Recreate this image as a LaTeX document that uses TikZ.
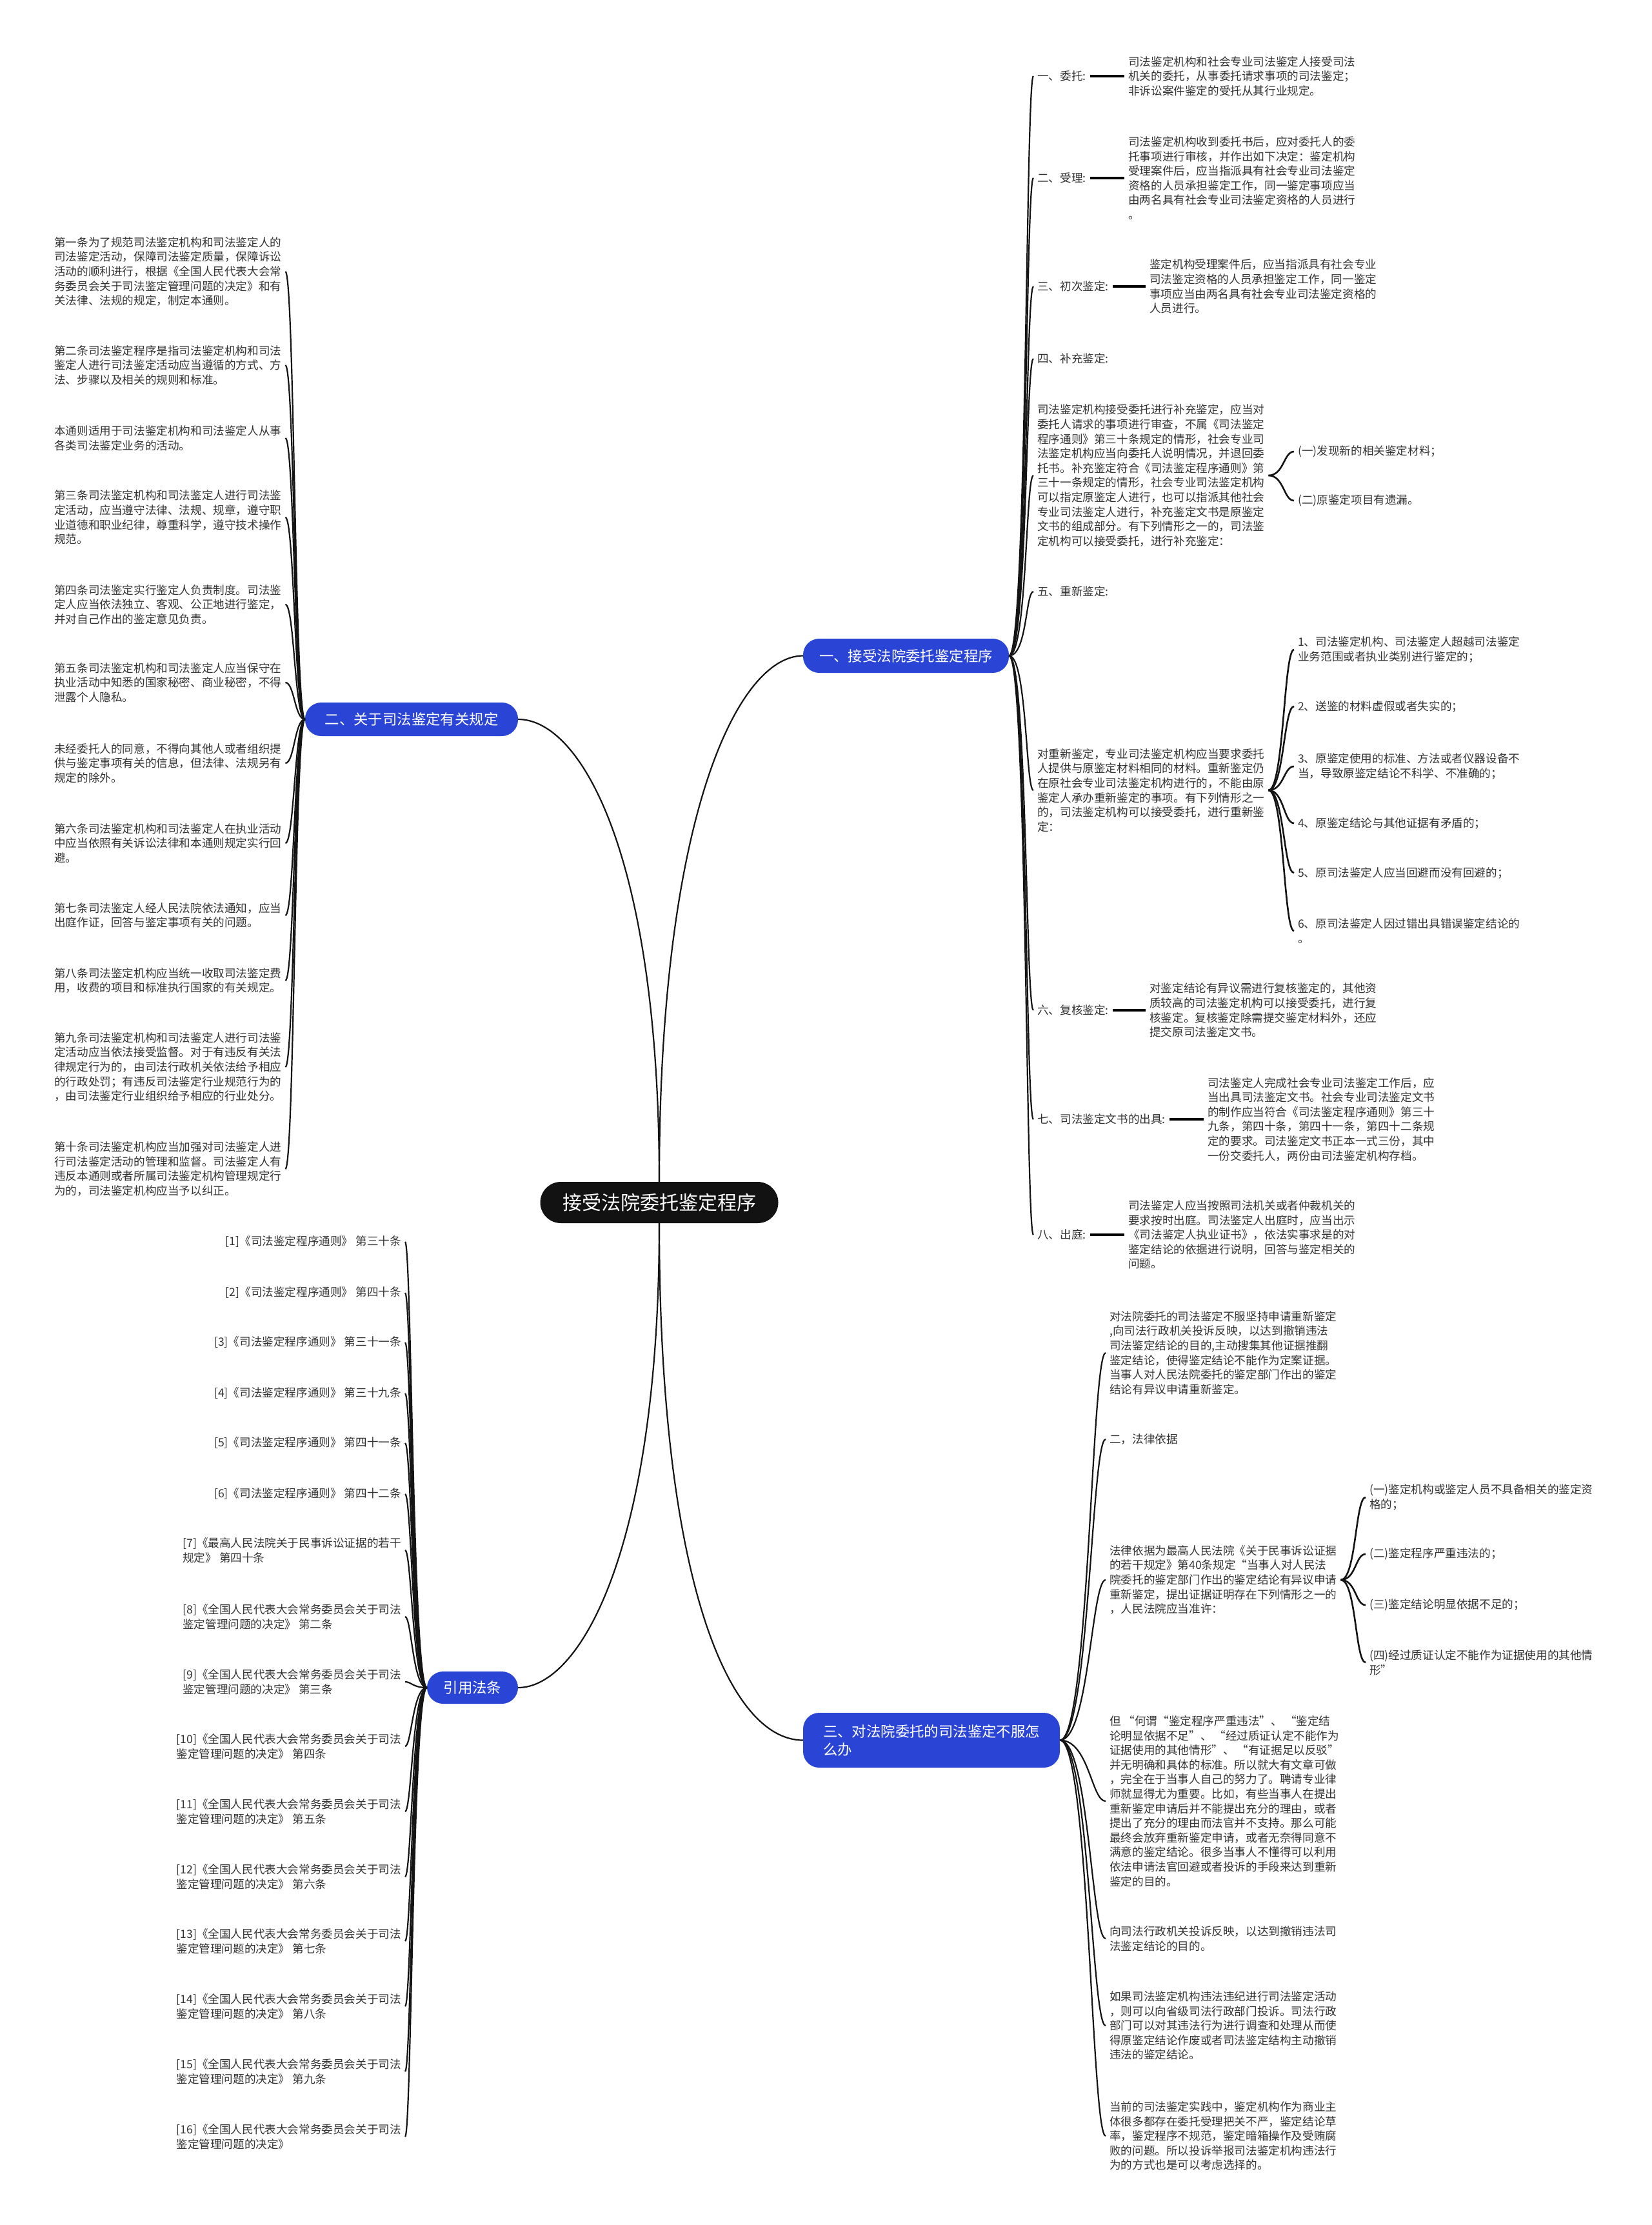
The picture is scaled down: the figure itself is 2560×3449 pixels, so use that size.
\documentclass[tikz,border=0pt]{standalone}
\usepackage{fontspec}
\setmainfont{Noto Sans CJK SC}
\newfontfamily\wmserif{Liberation Serif}
\definecolor{txtc}{HTML}{333333}
\definecolor{pillblue}{RGB}{42,68,214}
\definecolor{wmc}{HTML}{D9D9D9}
\tikzset{
 conn/.style={draw=black!92, line width=2.2pt},
 subconn/.style={draw=black!92, line width=2.6pt},
 dashc/.style={draw=black, line width=3.4pt},
 blk/.style={font=\fontsize{17.6}{22.6}\selectfont, text=txtc, align=left, inner xsep=6pt, inner ysep=2pt},
 pill/.style={fill=pillblue, text=white, rounded corners=25pt, font=\fontsize{22.4}{28}\selectfont, inner sep=0pt, align=center},
 rootpill/.style={fill=black!93, text=white, rounded corners=32pt, font=\fontsize{30}{36}\selectfont, minimum width=369pt, minimum height=64pt, inner sep=0pt},
 wmk/.style={text=wmc, rotate=31, font=\fontsize{110}{120}\selectfont, inner sep=0pt},
}
\newcommand\mmR[4]{\draw[conn] (#1) .. controls +(#3,0) and +(-#4,0) .. (#2);}
\newcommand\mmL[4]{\draw[conn] (#1) .. controls +(-#3,0) and +(#4,0) .. (#2);}
\newcommand\mmS[2]{\draw[subconn] (#1) .. controls +(24,0) and +(-16,0) .. (#2);}
\begin{document}
\begin{tikzpicture}[x=1pt,y=-1pt]
\useasboundingbox[fill=white] (0,0) rectangle (2560,3449);

% root and branches
\node[rootpill] (root) at (1022,1864) {接受法院委托鉴定程序};
\node[pill, minimum width=319pt, minimum height=53pt] (b1) at (1404.5,1016.5) {一、接受法院委托鉴定程序};
\node[pill, minimum width=330pt, minimum height=52pt] (b2) at (638,1115) {二、关于司法鉴定有关规定};
\node[pill, minimum width=141pt, minimum height=50pt] (b3) at (732.5,2616) {引用法条};
\node[pill, minimum width=398pt, minimum height=85pt, align=left] (b4) at (1444,2697.5) {三、对法院委托的司法鉴定不服怎\\么办};

\draw[conn] (root.north) .. controls (1022,1261) and (1145,1016.5) .. (b1.west);
\draw[conn] (root.north) .. controls (1022,1330) and (902,1115) .. (b2.east);
\draw[conn] (root.south) .. controls (1022,2400) and (900,2616) .. (b3.east);
\draw[conn] (root.south) .. controls (1022,2450) and (1130,2697.5) .. (b4.west);

% ---------- branch 1 ----------
\node[blk, anchor=west] (c11) at (1602,118) {一、委托:};
\node[blk, anchor=west] (d11) at (1743,118) {司法鉴定机构和社会专业司法鉴定人接受司法\\机关的委托，从事委托请求事项的司法鉴定；\\非诉讼案件鉴定的受托从其行业规定。};
\node[blk, anchor=west] (c12) at (1602,276) {二、受理:};
\node[blk, anchor=west] (d12) at (1743,276) {司法鉴定机构收到委托书后，应对委托人的委\\托事项进行审核，并作出如下决定：鉴定机构\\受理案件后，应当指派具有社会专业司法鉴定\\资格的人员承担鉴定工作，同一鉴定事项应当\\由两名具有社会专业司法鉴定资格的人员进行\\。};
\node[blk, anchor=west] (c13) at (1602,444) {三、初次鉴定:};
\node[blk, anchor=west] (d13) at (1776,444) {鉴定机构受理案件后，应当指派具有社会专业\\司法鉴定资格的人员承担鉴定工作，同一鉴定\\事项应当由两名具有社会专业司法鉴定资格的\\人员进行。};
\node[blk, anchor=west] (c14) at (1602,556) {四、补充鉴定:};
\node[blk, anchor=west] (c15) at (1602,737) {司法鉴定机构接受委托进行补充鉴定，应当对\\委托人请求的事项进行审查，不属《司法鉴定\\程序通则》第三十条规定的情形，社会专业司\\法鉴定机构应当向委托人说明情况，并退回委\\托书。补充鉴定符合《司法鉴定程序通则》第\\三十一条规定的情形，社会专业司法鉴定机构\\可以指定原鉴定人进行，也可以指派其他社会\\专业司法鉴定人进行，补充鉴定文书是原鉴定\\文书的组成部分。有下列情形之一的，司法鉴\\定机构可以接受委托，进行补充鉴定：};
\node[blk, anchor=west] (e151) at (2006,700) {(一)发现新的相关鉴定材料；};
\node[blk, anchor=west] (e152) at (2006,776) {(二)原鉴定项目有遗漏。};
\node[blk, anchor=west] (c16) at (1602,917) {五、重新鉴定:};
\node[blk, anchor=west] (c17) at (1602,1225) {对重新鉴定，专业司法鉴定机构应当要求委托\\人提供与原鉴定材料相同的材料。重新鉴定仍\\在原社会专业司法鉴定机构进行的，不能由原\\鉴定人承办重新鉴定的事项。有下列情形之一\\的，司法鉴定机构可以接受委托，进行重新鉴\\定：};
\node[blk, anchor=west] (e171) at (2006,1007) {1、司法鉴定机构、司法鉴定人超越司法鉴定\\业务范围或者执业类别进行鉴定的；};
\node[blk, anchor=west] (e172) at (2006,1095) {2、送鉴的材料虚假或者失实的；};
\node[blk, anchor=west] (e173) at (2006,1188) {3、原鉴定使用的标准、方法或者仪器设备不\\当，导致原鉴定结论不科学、不准确的；};
\node[blk, anchor=west] (e174) at (2006,1276) {4、原鉴定结论与其他证据有矛盾的；};
\node[blk, anchor=west] (e175) at (2006,1353) {5、原司法鉴定人应当回避而没有回避的；};
\node[blk, anchor=west] (e176) at (2006,1443) {6、原司法鉴定人因过错出具错误鉴定结论的\\。};
\node[blk, anchor=west] (c18) at (1602,1566) {六、复核鉴定:};
\node[blk, anchor=west] (d18) at (1776,1566) {对鉴定结论有异议需进行复核鉴定的，其他资\\质较高的司法鉴定机构可以接受委托，进行复\\核鉴定。复核鉴定除需提交鉴定材料外，还应\\提交原司法鉴定文书。};
\node[blk, anchor=west] (c19) at (1602,1735) {七、司法鉴定文书的出具:};
\node[blk, anchor=west] (d19) at (1866,1735) {司法鉴定人完成社会专业司法鉴定工作后，应\\当出具司法鉴定文书。社会专业司法鉴定文书\\的制作应当符合《司法鉴定程序通则》第三十\\九条，第四十条，第四十一条，第四十二条规\\定的要求。司法鉴定文书正本一式三份，其中\\一份交委托人，两份由司法鉴定机构存档。};
\node[blk, anchor=west] (c1a) at (1602,1914) {八、出庭:};
\node[blk, anchor=west] (d1a) at (1743,1914) {司法鉴定人应当按照司法机关或者仲裁机关的\\要求按时出庭。司法鉴定人出庭时，应当出示\\《司法鉴定人执业证书》，依法实事求是的对\\鉴定结论的依据进行说明，回答与鉴定相关的\\问题。};

\foreach \c in {c11,c12,c13,c14,c15,c16,c17,c18,c19,c1a} {\mmR{b1.east}{\c.west}{28}{12}}
\foreach \c/\d in {c11/d11,c12/d12,c13/d13,c18/d18,c19/d19,c1a/d1a} {\draw[dashc] (\c.east) -- (\d.west);}
\foreach \e in {e151,e152} {\mmS{c15.east}{\e.west}}
\foreach \e in {e171,e172,e173,e174,e175,e176} {\mmS{c17.east}{\e.west}}

% ---------- branch 2 ----------
\node[blk, anchor=west] (l1) at (78,421) {第一条为了规范司法鉴定机构和司法鉴定人的\\司法鉴定活动，保障司法鉴定质量，保障诉讼\\活动的顺利进行，根据《全国人民代表大会常\\务委员会关于司法鉴定管理问题的决定》和有\\关法律、法规的规定，制定本通则。};
\node[blk, anchor=west] (l2) at (78,566) {第二条司法鉴定程序是指司法鉴定机构和司法\\鉴定人进行司法鉴定活动应当遵循的方式、方\\法、步骤以及相关的规则和标准。};
\node[blk, anchor=west] (l3) at (78,679) {本通则适用于司法鉴定机构和司法鉴定人从事\\各类司法鉴定业务的活动。};
\node[blk, anchor=west] (l4) at (78,802) {第三条司法鉴定机构和司法鉴定人进行司法鉴\\定活动，应当遵守法律、法规、规章，遵守职\\业道德和职业纪律，尊重科学，遵守技术操作\\规范。};
\node[blk, anchor=west] (l5) at (78,937) {第四条司法鉴定实行鉴定人负责制度。司法鉴\\定人应当依法独立、客观、公正地进行鉴定，\\并对自己作出的鉴定意见负责。};
\node[blk, anchor=west] (l6) at (78,1058) {第五条司法鉴定机构和司法鉴定人应当保守在\\执业活动中知悉的国家秘密、商业秘密，不得\\泄露个人隐私。};
\node[blk, anchor=west] (l7) at (78,1183) {未经委托人的同意，不得向其他人或者组织提\\供与鉴定事项有关的信息，但法律、法规另有\\规定的除外。};
\node[blk, anchor=west] (l8) at (78,1307) {第六条司法鉴定机构和司法鉴定人在执业活动\\中应当依照有关诉讼法律和本通则规定实行回\\避。};
\node[blk, anchor=west] (l9) at (78,1419) {第七条司法鉴定人经人民法院依法通知，应当\\出庭作证，回答与鉴定事项有关的问题。};
\node[blk, anchor=west] (l10) at (78,1520) {第八条司法鉴定机构应当统一收取司法鉴定费\\用，收费的项目和标准执行国家的有关规定。};
\node[blk, anchor=west] (l11) at (78,1654) {第九条司法鉴定机构和司法鉴定人进行司法鉴\\定活动应当依法接受监督。对于有违反有关法\\律规定行为的，由司法行政机关依法给予相应\\的行政处罚；有违反司法鉴定行业规范行为的\\，由司法鉴定行业组织给予相应的行业处分。};
\node[blk, anchor=west] (l12) at (78,1812) {第十条司法鉴定机构应当加强对司法鉴定人进\\行司法鉴定活动的管理和监督。司法鉴定人有\\违反本通则或者所属司法鉴定机构管理规定行\\为的，司法鉴定机构应当予以纠正。};
\foreach \c in {l1,l2,l3,l4,l5,l6,l7,l8,l9,l10,l11,l12} {\mmL{b2.west}{\c.east}{16}{14}}

% ---------- branch 3 ----------
\node[blk, anchor=east] (r1) at (628,1925) {[1]《司法鉴定程序通则》 第三十条};
\node[blk, anchor=east] (r2) at (628,2004) {[2]《司法鉴定程序通则》 第四十条};
\node[blk, anchor=east] (r3) at (628,2081) {[3]《司法鉴定程序通则》 第三十一条};
\node[blk, anchor=east] (r4) at (628,2160) {[4]《司法鉴定程序通则》 第三十九条};
\node[blk, anchor=east] (r5) at (628,2237) {[5]《司法鉴定程序通则》 第四十一条};
\node[blk, anchor=east] (r6) at (628,2316) {[6]《司法鉴定程序通则》 第四十二条};
\node[blk, anchor=east] (r7) at (628,2403) {[7]《最高人民法院关于民事诉讼证据的若干\\规定》 第四十条};
\node[blk, anchor=east] (r8) at (628,2506) {[8]《全国人民代表大会常务委员会关于司法\\鉴定管理问题的决定》 第二条};
\node[blk, anchor=east] (r9) at (628,2607) {[9]《全国人民代表大会常务委员会关于司法\\鉴定管理问题的决定》 第三条};
\node[blk, anchor=east] (r10) at (628,2707) {[10]《全国人民代表大会常务委员会关于司法\\鉴定管理问题的决定》 第四条};
\node[blk, anchor=east] (r11) at (628,2808) {[11]《全国人民代表大会常务委员会关于司法\\鉴定管理问题的决定》 第五条};
\node[blk, anchor=east] (r12) at (628,2909) {[12]《全国人民代表大会常务委员会关于司法\\鉴定管理问题的决定》 第六条};
\node[blk, anchor=east] (r13) at (628,3009) {[13]《全国人民代表大会常务委员会关于司法\\鉴定管理问题的决定》 第七条};
\node[blk, anchor=east] (r14) at (628,3110) {[14]《全国人民代表大会常务委员会关于司法\\鉴定管理问题的决定》 第八条};
\node[blk, anchor=east] (r15) at (628,3211) {[15]《全国人民代表大会常务委员会关于司法\\鉴定管理问题的决定》 第九条};
\node[blk, anchor=east] (r16) at (628,3312) {[16]《全国人民代表大会常务委员会关于司法\\鉴定管理问题的决定》};
\foreach \c in {r1,r2,r3,r4,r5,r6,r7,r8,r9,r10,r11,r12,r13,r14,r15,r16} {\mmL{b3.west}{\c.east}{22}{10}}

% ---------- branch 4 ----------
\node[blk, anchor=west] (f1) at (1714,2097) {对法院委托的司法鉴定不服坚持申请重新鉴定\\,向司法行政机关投诉反映，以达到撤销违法\\司法鉴定结论的目的,主动搜集其他证据推翻\\鉴定结论，使得鉴定结论不能作为定案证据。\\当事人对人民法院委托的鉴定部门作出的鉴定\\结论有异议申请重新鉴定。};
\node[blk, anchor=west] (f2) at (1714,2231) {二，法律依据};
\node[blk, anchor=west] (f3) at (1714,2449) {法律依据为最高人民法院《关于民事诉讼证据\\的若干规定》第40条规定“当事人对人民法\\院委托的鉴定部门作出的鉴定结论有异议申请\\重新鉴定，提出证据证明存在下列情形之一的\\，人民法院应当准许：};
\node[blk, anchor=west] (g1) at (2117,2321) {(一)鉴定机构或鉴定人员不具备相关的鉴定资\\格的；};
\node[blk, anchor=west] (g2) at (2117,2409) {(二)鉴定程序严重违法的；};
\node[blk, anchor=west] (g3) at (2117,2488) {(三)鉴定结论明显依据不足的；};
\node[blk, anchor=west] (g4) at (2117,2577) {(四)经过质证认定不能作为证据使用的其他情\\形”};
\node[blk, anchor=west] (f4) at (1714,2792) {但 “何谓“鉴定程序严重违法”、 “鉴定结\\论明显依据不足”、 “经过质证认定不能作为\\证据使用的其他情形”、 “有证据足以反驳”\\并无明确和具体的标准。所以就大有文章可做\\，完全在于当事人自己的努力了。聘请专业律\\师就显得尤为重要。比如，有些当事人在提出\\重新鉴定申请后并不能提出充分的理由，或者\\提出了充分的理由而法官并不支持。那么可能\\最终会放弃重新鉴定申请，或者无奈得同意不\\满意的鉴定结论。很多当事人不懂得可以利用\\依法申请法官回避或者投诉的手段来达到重新\\鉴定的目的。};
\node[blk, anchor=west] (f5) at (1714,3005) {向司法行政机关投诉反映，以达到撤销违法司\\法鉴定结论的目的。};
\node[blk, anchor=west] (f6) at (1714,3140) {如果司法鉴定机构违法违纪进行司法鉴定活动\\，则可以向省级司法行政部门投诉。司法行政\\部门可以对其违法行为进行调查和处理从而使\\得原鉴定结论作废或者司法鉴定结构主动撤销\\违法的鉴定结论。};
\node[blk, anchor=west] (f7) at (1714,3311) {当前的司法鉴定实践中，鉴定机构作为商业主\\体很多都存在委托受理把关不严，鉴定结论草\\率，鉴定程序不规范，鉴定暗箱操作及受贿腐\\败的问题。所以投诉举报司法鉴定机构违法行\\为的方式也是可以考虑选择的。};
\foreach \c in {f1,f2,f3,f4,f5,f6,f7} {\mmR{b4.east}{\c.west}{45}{22}}
\foreach \g in {g1,g2,g3,g4} {\mmS{f3.east}{\g.west}}
\end{tikzpicture}
\end{document}
